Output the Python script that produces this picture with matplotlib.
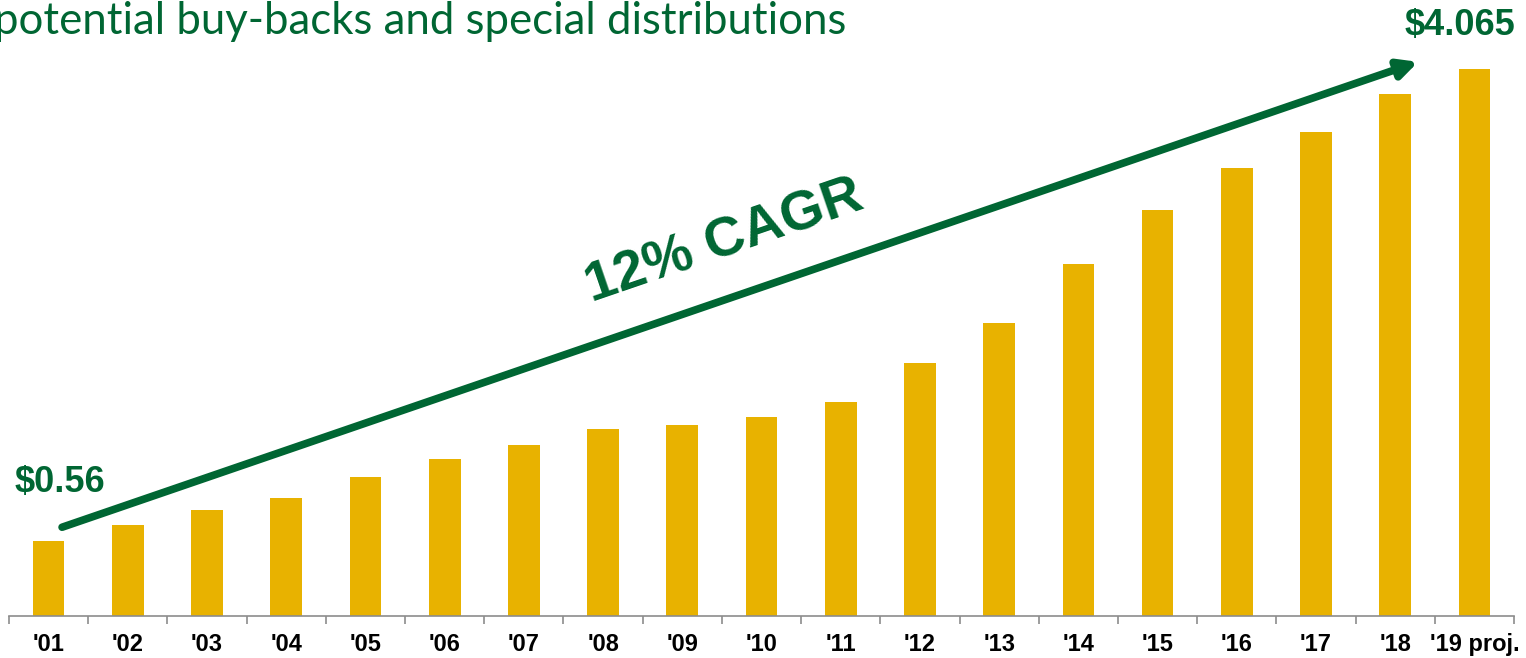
import matplotlib
matplotlib.use('Agg')
import matplotlib.pyplot as plt
import numpy as np

years = ["'01", "'02", "'03", "'04", "'05", "'06", "'07", "'08", "'09", "'10",
         "'11", "'12", "'13", "'14", "'15", "'16", "'17", "'18", "'19 proj."]
dividend = [0.56, 0.68, 0.79, 0.88, 1.03, 1.17, 1.27, 1.39, 1.42, 1.48,
            1.59, 1.88, 2.18, 2.62, 3.02, 3.33, 3.60, 3.88, 4.065]
first_label = '$0.56'
last_label = '$4.065'
cagr_text = '12% CAGR'
title_text = 'potential buy-backs and special distributions'

# arrow endpoints in data units (x = bar index, y = $)
arrow_start = (0.17, 0.66)
arrow_end = (17.29, 4.12)

green = '#006633'
gold = '#E8B200'

fig = plt.figure(figsize=(15.26, 6.58), dpi=100)
ax = fig.add_axes([9 / 1526, 42 / 658, 1505 / 1526, 616 / 658])

x = np.arange(len(years))
ax.bar(x, dividend, width=0.4, color=gold, zorder=2)

ax.set_xlim(-0.5, len(years) - 0.5)
ax.set_ylim(0, 4.58)

for s in ['top', 'right', 'left']:
    ax.spines[s].set_visible(False)
ax.spines['bottom'].set_color('#8c8c8c')
ax.spines['bottom'].set_linewidth(1.2)
ax.set_yticks([])

ax.set_xticks(x)
ax.set_xticklabels(years, fontfamily='Liberation Sans', fontweight='bold', fontsize=17, color='black')
ax.tick_params(axis='x', which='major', length=0, pad=12)
ax.set_xticks(np.arange(len(years) + 1) - 0.5, minor=True)
ax.tick_params(axis='x', which='minor', length=6, width=1.2, color='#8c8c8c', direction='out')

# growth arrow
ax.annotate('', xy=arrow_end, xytext=arrow_start,
            arrowprops=dict(arrowstyle='-|>,head_length=1.1,head_width=0.55',
                            color=green, lw=5.5, shrinkA=0, shrinkB=0),
            zorder=3)

# angle of the arrow on screen
fig.canvas.draw()
p0 = ax.transData.transform(arrow_start)
p1 = ax.transData.transform(arrow_end)
angle = np.degrees(np.arctan2(p1[1] - p0[1], p1[0] - p0[0]))

mid = ((arrow_start[0] + arrow_end[0]) / 2, (arrow_start[1] + arrow_end[1]) / 2)
ax.annotate(cagr_text, xy=mid, xytext=(-16, 52), textcoords='offset pixels',
            rotation=angle, rotation_mode='anchor', ha='center', va='center',
            fontfamily='Liberation Sans', fontweight='bold', fontsize=40, color=green)

ax.annotate(first_label, xy=(0, dividend[0]), xytext=(11, 41), textcoords='offset pixels',
            ha='center', va='bottom', fontfamily='Liberation Sans', fontweight='bold',
            fontsize=26, color=green)
ax.annotate(last_label, xy=(len(years) - 1, dividend[-1]), xytext=(-14, 26), textcoords='offset pixels',
            ha='center', va='bottom', fontfamily='Liberation Sans', fontweight='bold',
            fontsize=26, color=green)

fig.text(-6 / 1526, 1 - 22 / 658, title_text, ha='left', va='center',
         fontfamily='Lato', fontsize=31.5, color=green)

fig.savefig('out.png', dpi=100)
